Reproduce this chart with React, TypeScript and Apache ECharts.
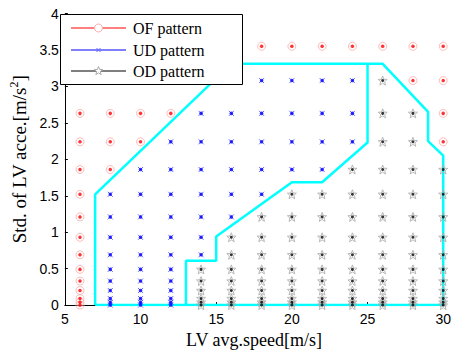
import React, { useEffect, useRef } from "react";
import * as echarts from "echarts";

// LV average speed columns [m/s]
const speeds = [6, 8, 10, 12, 14, 16, 18, 20, 22, 24, 26, 28, 30];
// Std. of LV acceleration rows [m/s^2], bottom to top
const stds = [0, 0.04, 0.09, 0.2, 0.33, 0.49, 0.69, 0.93, 1.21, 1.52, 1.86, 2.24, 2.63, 3.08, 3.55];
// Pattern of each speed column, one letter per std row (bottom → top): F = OF, U = UD, D = OD
const patterns = [
  "FFFFFFFFFFFFFFF",
  "UUUUUUUUUUFFFFF",
  "UUUUUUUUUUUFFFF",
  "UUUUUUUUUUUUFFF",
  "DDDDDDUUUUUUUFF",
  "DDDDDDDDUUUUUUF",
  "DDDDDDDDDUUUUUF",
  "DDDDDDDDDDUUUUF",
  "DDDDDDDDDDUUUUF",
  "DDDDDDDDDDDUUUF",
  "DDDDDDDDDDDDDDF",
  "DDDDDDDDDDDDDFF",
  "DDDDDDDDDDDFFFF",
];
// Cyan boundaries
const outerX = [7, 7, 16, 26, 29, 29, 30, 30, 7];
const outerY = [0, 1.52, 3.31, 3.31, 2.65, 2.25, 2.05, 0, 0];
const innerX = [25, 25, 22, 20, 15, 15, 13, 13];
const innerY = [3.31, 2.23, 1.685, 1.685, 0.94, 0.61, 0.61, 0];

const legendNames = ["OF pattern", "UD pattern", "OD pattern"];

const STAR =
  "path://M12,2L14.9,8.9L22.5,9.3L16.6,14.1L18.6,21.5L12,17.3L5.4,21.5L7.4,14.1L1.5,9.3L9.1,8.9Z";
const CROSS = "path://M0,0L10,10M10,0L0,10";

function pointsOf(code: string): number[][] {
  const out: number[][] = [];
  speeds.forEach((s, i) => {
    stds.forEach((v, j) => {
      if (patterns[i][j] === code) out.push([s, v]);
    });
  });
  return out;
}

export default function App() {
  const ref = useRef<HTMLDivElement>(null);
  useEffect(() => {
    if (!ref.current) return;
    const chart = echarts.init(ref.current, undefined, { renderer: "svg" });
    const of = pointsOf("F");
    const ud = pointsOf("U");
    const od = pointsOf("D");
    const clear = "rgba(255,255,255,0)";

    const lx0 = 71, lx1 = 126, lmx = 98.5, ltx = 133;
    const rows = [28, 50, 71];

    const starPts = (cx: number, cy: number, r: number) => {
      const p: number[][] = [];
      for (let k = 0; k < 10; k++) {
        const a = -Math.PI / 2 + (k * Math.PI) / 5;
        const rr = k % 2 === 0 ? r : r * 0.42;
        p.push([cx + rr * Math.cos(a), cy + rr * Math.sin(a)]);
      }
      return p;
    };

    chart.setOption({
      animation: false,
      grid: { left: 61, right: 6, top: 13.5, bottom: 46.5 },
      xAxis: {
        type: "value",
        min: 5,
        max: 30,
        interval: 5,
        name: "LV avg.speed[m/s]",
        nameLocation: "middle",
        nameGap: 25,
        nameTextStyle: { fontFamily: "Liberation Serif", fontSize: 18, color: "#000" },
        axisLine: { show: true, lineStyle: { color: "#000", width: 1 } },
        axisTick: { show: true, inside: true, length: 3, lineStyle: { color: "#000" } },
        axisLabel: { fontFamily: "Liberation Sans", fontSize: 14, color: "#000", margin: 7 },
        splitLine: { show: false },
      },
      yAxis: {
        type: "value",
        min: 0,
        max: 4,
        interval: 0.5,
        name: "{a|Std. of LV acce.[m/s}{s|2}{a|]}",
        nameLocation: "middle",
        nameGap: 30,
        nameTextStyle: {
          color: "#000",
          rich: {
            a: { fontFamily: "Liberation Serif", fontSize: 19, color: "#000", lineHeight: 22 },
            s: { fontFamily: "Liberation Serif", fontSize: 12, color: "#000", verticalAlign: "top", lineHeight: 22 },
          },
        },
        axisLine: { show: true, lineStyle: { color: "#000", width: 1 } },
        axisTick: { show: true, inside: true, length: 3, lineStyle: { color: "#000" } },
        axisLabel: { fontFamily: "Liberation Sans", fontSize: 14, color: "#000", margin: 6 },
        splitLine: { show: false },
      },
      series: [
        {
          type: "line",
          data: outerX.map((x, i) => [x, outerY[i]]),
          symbol: "none",
          lineStyle: { color: "#00ffff", width: 2.5 },
          silent: true,
          z: 2,
        },
        {
          type: "line",
          data: innerX.map((x, i) => [x, innerY[i]]),
          symbol: "none",
          lineStyle: { color: "#00ffff", width: 2.5 },
          silent: true,
          z: 2,
        },
        {
          type: "scatter",
          data: of,
          symbol: "circle",
          symbolSize: 8,
          itemStyle: { color: clear, borderColor: "#ffaaaa", borderWidth: 1 },
          silent: true,
          z: 3,
        },
        {
          type: "scatter",
          data: of,
          symbol: "circle",
          symbolSize: 3.5,
          itemStyle: { color: "#ff0000" },
          silent: true,
          z: 4,
        },
        {
          type: "scatter",
          data: ud,
          symbol: CROSS,
          symbolSize: 5,
          itemStyle: { color: clear, borderColor: "#4444ff", borderWidth: 1 },
          silent: true,
          z: 3,
        },
        {
          type: "scatter",
          data: ud,
          symbol: "circle",
          symbolSize: 3.5,
          itemStyle: { color: "#0000ff" },
          silent: true,
          z: 4,
        },
        {
          type: "scatter",
          data: od,
          symbol: STAR,
          symbolSize: 9,
          itemStyle: { color: clear, borderColor: "#a8a8a8", borderWidth: 1 },
          silent: true,
          z: 3,
        },
        {
          type: "scatter",
          data: od,
          symbol: "circle",
          symbolSize: 3,
          itemStyle: { color: "#000000" },
          silent: true,
          z: 4,
        },
      ],
      graphic: [
        {
          type: "rect",
          z: 100,
          shape: { x: 60.5, y: 14.5, width: 182, height: 70 },
          style: { fill: "#fff", stroke: "#000", lineWidth: 1 },
        },
        {
          type: "line",
          z: 101,
          shape: { x1: lx0, y1: rows[0], x2: lx1, y2: rows[0] },
          style: { stroke: "#ff0000", lineWidth: 1 },
        },
        {
          type: "circle",
          z: 102,
          shape: { cx: lmx, cy: rows[0], r: 4 },
          style: { fill: "#fff", stroke: "#ffaaaa", lineWidth: 1 },
        },
        {
          type: "line",
          z: 101,
          shape: { x1: lx0, y1: rows[1], x2: lx1, y2: rows[1] },
          style: { stroke: "#0000ff", lineWidth: 1 },
        },
        {
          type: "line",
          z: 102,
          shape: { x1: lmx - 2, y1: rows[1] - 2, x2: lmx + 2, y2: rows[1] + 2 },
          style: { stroke: "#6666ff", lineWidth: 1 },
        },
        {
          type: "line",
          z: 102,
          shape: { x1: lmx + 2, y1: rows[1] - 2, x2: lmx - 2, y2: rows[1] + 2 },
          style: { stroke: "#6666ff", lineWidth: 1 },
        },
        {
          type: "line",
          z: 101,
          shape: { x1: lx0, y1: rows[2], x2: lx1, y2: rows[2] },
          style: { stroke: "#000000", lineWidth: 1 },
        },
        {
          type: "polygon",
          z: 102,
          shape: { points: starPts(lmx, rows[2], 4.5) },
          style: { fill: "#fff", stroke: "#aaaaaa", lineWidth: 1 },
        },
        ...legendNames.map((n, i) => ({
          type: "text",
          z: 102,
          x: ltx,
          y: rows[i],
          style: {
            text: n,
            fontFamily: "Liberation Serif",
            fontSize: 16,
            fill: "#000",
            verticalAlign: "middle",
          },
        })),
      ],
    });
    return () => chart.dispose();
  }, []);
  return <div ref={ref} style={{ width: 454, height: 354, position: "absolute", left: 0, top: 0 }} />;
}
